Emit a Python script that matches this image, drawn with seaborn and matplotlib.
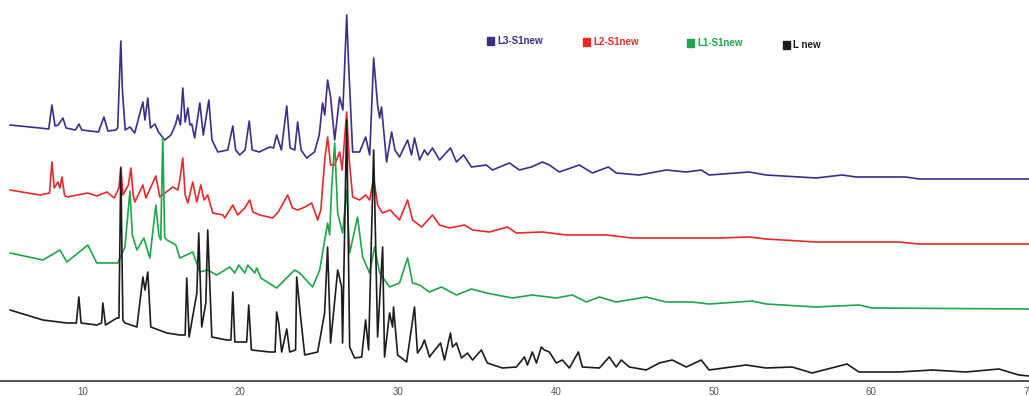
import numpy as np
import pandas as pd
import matplotlib
matplotlib.use("Agg")
import matplotlib.pyplot as plt
from matplotlib.ticker import MultipleLocator
import seaborn as sns

# ---- data (2-theta in degrees, stacked intensity in a.u.) ----
series_names = ["L3-S1new", "L2-S1new", "L1-S1new", "L new"]

l3_theta = [5.39, 7.29, 7.85, 8.05, 8.25, 8.45, 8.75, 8.95, 9.55, 9.76, 9.95, 11.0, 11.35, 11.6, 12.1,
            12.22, 12.42, 12.52, 12.7, 13.0, 13.3, 13.82, 13.95, 14.13, 14.3, 14.58, 14.8, 15.21, 15.6,
            15.9, 16.03, 16.2, 16.35, 16.5, 16.67, 16.8, 16.92, 17.1, 17.43, 17.65, 18.0, 18.2, 18.57,
            19.2, 19.52, 19.7, 19.96, 20.3, 20.56, 20.75, 21.2, 21.86, 22.1, 22.30, 22.6, 22.94, 23.15,
            23.45, 23.63, 23.85, 24.20, 24.7, 25.0, 25.21, 25.35, 25.53, 25.72, 25.98, 26.29, 26.5,
            26.74, 26.85, 27.12, 27.56, 27.94, 28.2, 28.45, 28.7, 28.83, 28.95, 29.27, 29.59, 29.8,
            30.09, 30.60, 30.85, 31.04, 31.36, 31.67, 31.87, 32.18, 32.63, 33.32, 33.70, 34.15, 34.65,
            35.60, 35.98, 37.06, 37.69, 38.45, 39.15, 39.59, 40.22, 41.49, 42.32, 43.33, 43.83, 45.29,
            47.00, 48.27, 49.22, 49.72, 52.26, 53.33, 56.50, 58.15, 59.03, 62.20, 63.02, 67.01, 70.0]
l3_int = [256, 253, 252, 276, 255, 256, 263, 253, 251, 257, 251, 249, 264, 250, 251,
          253, 340, 291, 251, 254, 248, 279, 261, 283, 253, 257, 249, 241, 246,
          257, 266, 256, 293, 259, 273, 256, 257, 243, 278, 246, 281, 241, 229,
          231, 255, 231, 226, 231, 260, 231, 229, 234, 233, 246, 231, 275, 233,
          231, 259, 231, 223, 229, 246, 278, 266, 301, 284, 241, 284, 271,
          366, 321, 229, 229, 244, 226, 323, 276, 263, 274, 219, 249, 231,
          224, 241, 226, 243, 221, 231, 226, 233, 221, 233, 219, 226, 214,
          216, 211, 218, 211, 214, 219, 216, 209, 216, 208, 214, 208, 206,
          211, 209, 211, 206, 209, 206, 203, 206, 204, 204, 202, 202, 202]

l2_theta = [5.39, 7.29, 7.9, 8.05, 8.2, 8.43, 8.56, 8.69, 8.85, 9.00, 10.33, 10.9, 11.54, 12.0, 12.3,
            12.42, 12.55, 12.9, 13.06, 13.2, 13.31, 13.82, 14.01, 14.64, 14.89, 15.72, 16.03, 16.16,
            16.35, 16.5, 16.67, 16.98, 17.24, 17.49, 17.7, 17.93, 18.25, 18.9, 19.01, 19.52, 19.83,
            20.28, 20.59, 20.8, 21.23, 22.05, 22.4, 23.00, 23.3, 23.63, 24.1, 24.52, 24.9, 25.1, 25.35,
            25.53, 25.72, 25.98, 26.29, 26.45, 26.74, 26.9, 27.12, 27.56, 27.94, 28.2, 28.45, 28.7,
            29.0, 29.5, 30.09, 30.60, 30.92, 31.49, 32.18, 32.63, 33.26, 34.21, 34.72, 35.79, 36.93,
            37.50, 39.15, 40.67, 43.20, 44.85, 47.38, 50.36, 52.26, 53.33, 56.50, 61.76, 63.02, 70.0]
l2_int = [191, 186, 188, 219, 193, 199, 193, 204, 186, 184, 188, 185, 189, 183, 193,
          214, 186, 196, 213, 186, 179, 196, 183, 205, 184, 194, 191, 201,
          223, 186, 178, 199, 179, 196, 181, 186, 168, 166, 163, 176, 166,
          173, 181, 169, 166, 163, 169, 186, 173, 171, 174, 178, 161, 171, 221,
          244, 216, 216, 229, 211, 269, 221, 184, 181, 186, 181, 203, 176,
          168, 171, 161, 181, 161, 154, 166, 156, 153, 156, 151, 149, 154,
          148, 149, 146, 146, 143, 143, 143, 144, 142, 139, 139, 137, 137]

l1_theta = [5.39, 7.48, 8.56, 9.00, 10.33, 10.90, 12.23, 12.68, 13.00, 13.15, 13.44, 13.88, 14.26,
            14.64, 14.83, 14.95, 15.08, 15.2, 15.34, 15.91, 16.16, 16.98, 17.43, 17.93, 18.50, 19.33,
            19.64, 19.90, 20.28, 20.47, 20.91, 21.04, 21.3, 22.30, 23.44, 23.76, 24.58, 25.03, 25.53,
            25.66, 25.79, 25.98, 26.17, 26.48, 26.74, 26.93, 27.43, 27.75, 28.19, 28.51, 28.83, 29.46,
            30.09, 30.60, 30.92, 31.36, 31.99, 32.75, 33.70, 34.65, 35.60, 37.25, 38.51, 40.03, 41.05,
            41.93, 42.76, 43.83, 45.73, 47.00, 48.65, 49.72, 52.45, 53.33, 56.50, 59.22, 60.05, 70.0]
l1_int = [128, 121, 131, 119, 136, 118, 118, 134, 190, 146, 131, 143, 123,
          176, 146, 141, 244, 144, 141, 136, 123, 129, 109, 111, 106, 114,
          108, 116, 108, 116, 108, 113, 103, 93, 111, 108, 94, 111, 158,
          146, 194, 238, 168, 148, 191, 128, 164, 124, 108, 134, 108, 94,
          98, 123, 98, 96, 89, 94, 86, 92, 88, 83, 86, 83, 86,
          79, 84, 79, 84, 79, 79, 77, 80, 77, 74, 76, 73, 72]

l_theta = [5.39, 7.48, 9.00, 9.6, 9.76, 9.9, 10.90, 11.2, 11.28, 11.45, 12.17, 12.3, 12.42, 12.55,
           12.68, 13.44, 13.82, 13.95, 14.13, 14.32, 15.34, 16.16, 16.5, 16.60, 16.75, 17.24, 17.36,
           17.55, 17.81, 17.93, 18.19, 19.14, 19.4, 19.52, 19.65, 20.09, 20.4, 20.53, 20.7, 21.86,
           22.2, 22.30, 22.43, 22.62, 22.94, 23.13, 23.5, 23.57, 23.82, 24.08, 24.90, 25.34, 25.53,
           25.72, 26.17, 26.42, 26.48, 26.74, 26.93, 27.24, 27.69, 27.94, 28.13, 28.45, 28.70, 29.02,
           29.14, 29.46, 29.65, 29.71, 29.97, 30.54, 31.04, 31.23, 31.49, 31.67, 31.99, 32.18, 32.69,
           32.94, 33.32, 33.45, 33.70, 34.02, 34.40, 34.72, 35.28, 35.66, 36.61, 37.50, 38.01, 38.20,
           38.51, 38.77, 39.08, 39.27, 39.59, 40.03, 40.41, 40.86, 41.43, 41.68, 42.76, 43.39, 43.83,
           44.15, 44.66, 45.73, 46.56, 47.38, 48.27, 49.22, 49.72, 52.07, 53.33, 54.98, 56.25,
           58.46, 59.22, 61.76, 63.85, 66.0, 68.09, 69.36, 70.0]
l_int = [71, 61, 58, 58, 84, 58, 56, 58, 78, 56, 63, 63, 213, 61,
         58, 54, 104, 91, 109, 54, 48, 46, 46, 103, 44, 88, 148,
         54, 78, 151, 44, 41, 41, 89, 39, 39, 39, 76, 31, 29,
         29, 69, 58, 29, 52, 29, 31, 104, 64, 26, 29, 68, 134,
         38, 111, 94, 38, 261, 34, 23, 24, 61, 31, 231, 44, 134,
         24, 68, 54, 74, 26, 19, 74, 28, 34, 41, 24, 28, 38,
         21, 48, 34, 38, 23, 28, 21, 31, 18, 13, 14, 24, 16,
         29, 18, 34, 31, 29, 18, 21, 13, 29, 14, 13, 24, 14,
         21, 14, 11, 18, 21, 14, 21, 11, 16, 13, 14, 8,
         17, 9, 9, 11, 9, 12, 6, 5]

tick_values = [10, 20, 30, 40, 50, 60, 70]
colors = {"L3-S1new": "#3b2e8a", "L2-S1new": "#e8292c", "L1-S1new": "#1fa54a", "L new": "#1c1c1c"}

frames = []
for name, th, it in zip(series_names, [l3_theta, l2_theta, l1_theta, l_theta],
                        [l3_int, l2_int, l1_int, l_int]):
    frames.append(pd.DataFrame({"two_theta": th, "intensity": it, "sample": name}))
df = pd.concat(frames, ignore_index=True)

sns.set_style("white")
plt.rcParams["font.family"] = ["Liberation Sans Narrow", "Liberation Sans", "DejaVu Sans"]

fig = plt.figure(figsize=(10.29, 3.96), dpi=100)
ax = fig.add_axes([0.0, 15 / 396, 1.0, 381 / 396])

sns.lineplot(data=df, x="two_theta", y="intensity", hue="sample", hue_order=series_names,
             palette=colors, sort=False, estimator=None, linewidth=1.2, legend=False, ax=ax)

ax.set_xlim(4.76, 70.0)
ax.set_ylim(0, 381)
ax.set_xlabel("")
ax.set_ylabel("")
ax.set_yticks([])
ax.set_xticks(tick_values)
ax.set_xticklabels([str(v) for v in tick_values])
ax.xaxis.set_minor_locator(MultipleLocator(1))
ax.tick_params(axis="x", which="both", direction="out", length=4, width=0.9,
               color="#444444", labelsize=7, labelcolor="#555555", pad=0.5)
for side in ["top", "left", "right"]:
    ax.spines[side].set_visible(False)
ax.spines["bottom"].set_color("#333333")
ax.spines["bottom"].set_linewidth(1.2)

# legend: coloured squares with labels
legend_pos = [(487, 41), (583, 42), (687, 43), (783, 45)]
for name, (px, py) in zip(series_names, legend_pos):
    fx, fy = px / 1029, 1 - py / 396
    fig.patches.append(plt.Rectangle((fx, fy - 4 / 396), 7 / 1029, 8 / 396,
                                     transform=fig.transFigure, color=colors[name], zorder=5))
    fig.text(fx + 10 / 1029, fy, name, color=colors[name], fontsize=7,
             fontweight="bold", va="center", ha="left")

fig.savefig("out.png", dpi=100)
